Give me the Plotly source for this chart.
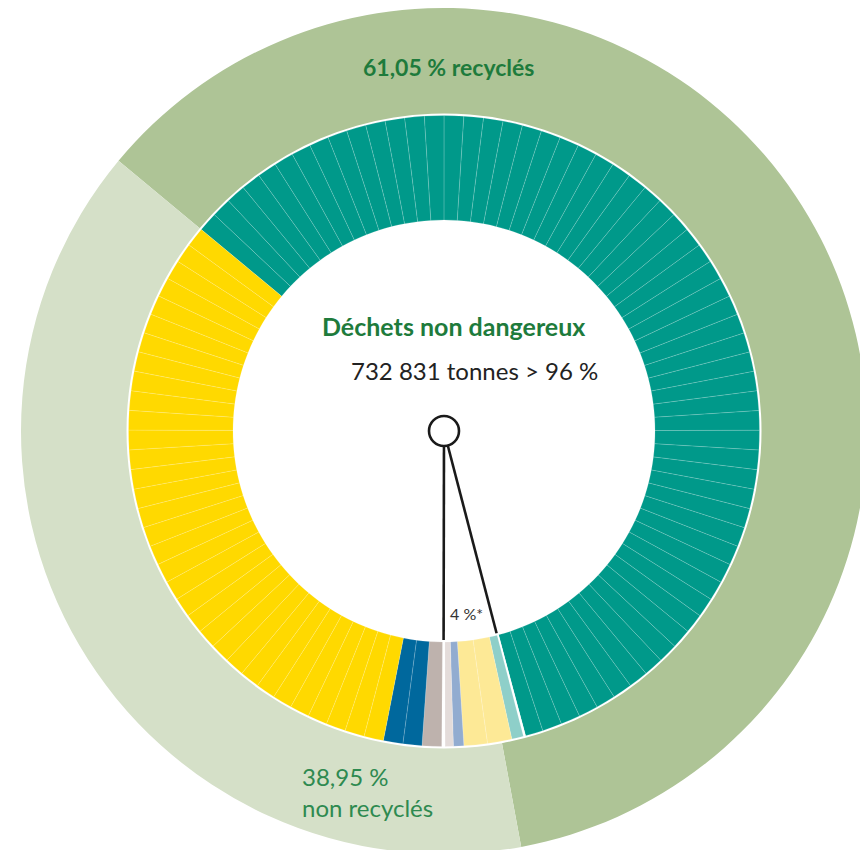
import math
import plotly.graph_objects as go

# ---------------- data ----------------
outer_labels = ["61,05 % recyclés", "38,95 % non recyclés"]
outer_values = [61.05, 38.95]
outer_colors = ["#aec496", "#d5e0c8"]

# inner ring, clockwise from the recycled / non-recycled split (percent of tonnage)
inner_labels = ["DND recyclés", "sep1", "DD 1", "DD 2", "DD 3", "DD 4", "sep2",
                "DND 2", "DND 3", "DND non recyclés"]
inner_values = [59.9, 0.12, 0.6, 2.45, 0.53, 0.42, 0.17, 1.0, 1.97, 33.0]
inner_colors = ["#00998a", "#ffffff", "#8ecfc9", "#fde996", "#92acd0", "#e4dcda",
                "#ffffff", "#beb2ad", "#00689d", "#ffd900"]
inner_step = [1, 0, 1, 1.25, 1, 1, 0, 1, 1, 1]       # width of the faint sub-divisions
inner_rem_first = [False, False, False, False, False, False, False, False, True, True]
start_angle = 309.7   # degrees clockwise from 12 o'clock

# ---------------- geometry (pixels) ----------------
W, H = 870, 860
CX, CY = 444, 431
R_OUT, R_OUT_HOLE = 423, 317.5
R_IN, R_IN_HOLE = 315.5, 211


def px(x):
    return x / W


def py(y):
    return 1 - y / H


def split(v, step, rem_first):
    if step <= 0:
        return [v]
    n = int(v // step + 1e-9)
    rem = round(v - n * step, 6)
    parts = [step] * n
    if rem > 1e-6:
        parts = ([rem] + parts) if rem_first else (parts + [rem])
    return parts


pieces, pcolors, pwidths = [], [], []
for v, c, s, rf in zip(inner_values, inner_colors, inner_step, inner_rem_first):
    for p in split(v, s, rf):
        pieces.append(p)
        pcolors.append(c)
        pwidths.append(0 if s == 0 else 0.7)

fig = go.Figure()

fig.add_trace(go.Pie(
    values=outer_values, labels=outer_labels, sort=False, direction="clockwise",
    rotation=start_angle - 360, hole=R_OUT_HOLE / R_OUT,
    marker=dict(colors=outer_colors, line=dict(width=0)),
    textinfo="none", hoverinfo="label", showlegend=False,
    domain=dict(x=[px(CX - R_OUT), px(CX + R_OUT)], y=[py(CY + R_OUT), py(CY - R_OUT)]),
))

fig.add_trace(go.Pie(
    values=pieces, sort=False, direction="clockwise",
    rotation=start_angle - 360, hole=R_IN_HOLE / R_IN,
    marker=dict(colors=pcolors, line=dict(width=pwidths, color="rgba(255,255,255,0.22)")),
    textinfo="none", hoverinfo="skip", showlegend=False,
    domain=dict(x=[px(CX - R_IN), px(CX + R_IN)], y=[py(CY + R_IN), py(CY - R_IN)]),
))

# pointer lines to the hazardous-waste section (angles derived from the data)
total = sum(inner_values)
cum1 = inner_values[0] + inner_values[1]
cum2 = sum(inner_values[:6]) + inner_values[6] / 2
shapes = []
for cum in (cum1, cum2):
    a = math.radians(start_angle + cum / total * 360)
    r0, r1 = 15, R_IN_HOLE - 2
    x0, y0 = CX + r0 * math.sin(a), CY - r0 * math.cos(a)
    x1, y1 = CX + r1 * math.sin(a), CY - r1 * math.cos(a)
    shapes.append(dict(type="line", xref="paper", yref="paper",
                       x0=px(x0), y0=py(y0), x1=px(x1), y1=py(y1),
                       line=dict(color="#1a1a1a", width=2.6)))
shapes.append(dict(type="circle", xref="paper", yref="paper",
                   xsizemode="pixel", ysizemode="pixel",
                   xanchor=px(CX), yanchor=py(CY), x0=-15, x1=15, y0=-15, y1=15,
                   fillcolor="white", line=dict(color="#1a1a1a", width=2.6)))

FONT = "Lato"
ann = [
    dict(text="<b>61,05 % recyclés</b>", x=px(448), y=py(67),
         font=dict(size=23, color="#1e7b3c", family=FONT)),
    dict(text="<b>Déchets non dangereux</b>", x=px(453), y=py(326),
         font=dict(size=25, color="#1e7b3c", family=FONT)),
    dict(text="732 831 tonnes > 96 %", x=px(474), y=py(370),
         font=dict(size=24, color="#222222", family=FONT)),
    dict(text="4 %*", x=px(466), y=py(613),
         font=dict(size=16, color="#333333", family=FONT)),
    dict(text="38,95 %<br>non recyclés", x=px(300), y=py(792), xanchor="left", align="left",
         font=dict(size=24, color="#2e8a50", family=FONT)),
]
for a in ann:
    a.setdefault("xanchor", "center")
    a.update(xref="paper", yref="paper", yanchor="middle", showarrow=False)

fig.update_layout(
    width=W, height=H, autosize=False,
    margin=dict(l=0, r=0, t=0, b=0, pad=0),
    paper_bgcolor="white", plot_bgcolor="white",
    shapes=shapes, annotations=ann,
)

fig.write_html("out.html", config={"displayModeBar": False},
               post_script="document.documentElement.style.overflow='hidden';"
                           "document.body.style.overflow='hidden';")
